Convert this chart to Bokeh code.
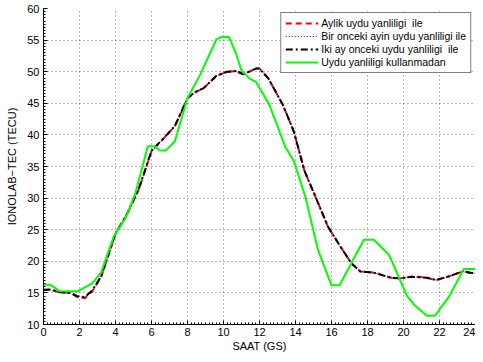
from bokeh.plotting import figure
from bokeh.models import Range1d, FixedTicker, Legend, LegendItem
from bokeh.embed import file_html
from bokeh.resources import INLINE

hours_a = [0, 0.4, 0.9, 1.5, 1.9, 2.3, 2.7, 3.2, 4.0, 4.6, 5.3, 6.0, 6.7, 7.3, 8.0, 8.4, 8.9, 9.6, 10.2, 10.7, 11.1, 11.5, 11.8, 12.0, 12.5, 13.3, 13.9, 14.5, 15.2, 15.8, 16.5, 17.1, 17.6, 18.4, 19.3, 19.8, 20.5, 21.3, 21.8, 22.5, 23.3, 23.8, 24.0]
aylik = [15.4, 15.5, 15.1, 15.0, 14.3, 14.15, 15.2, 17.5, 24.3, 27.2, 31.4, 37.4, 39.5, 41.4, 45.8, 46.7, 47.4, 49.3, 50.0, 50.1, 49.6, 50.1, 50.5, 50.5, 48.9, 44.7, 40.6, 34.3, 29.6, 25.5, 22.3, 19.7, 18.4, 18.2, 17.4, 17.3, 17.6, 17.4, 17.0, 17.6, 18.4, 18.1, 18.1]
bir_onceki = [15.45, 15.5, 15.1, 15.0, 14.4, 14.3, 15.3, 17.6, 24.4, 27.3, 31.45, 37.45, 39.55, 41.4, 45.8, 46.75, 47.4, 49.35, 50.0, 50.1, 49.6, 50.1, 50.5, 50.5, 48.9, 44.75, 40.6, 34.3, 29.6, 25.5, 22.3, 19.7, 18.4, 18.15, 17.4, 17.3, 17.55, 17.4, 17.05, 17.6, 18.4, 18.15, 18.1]
iki_ay = [15.5, 15.55, 15.1, 15.0, 14.45, 14.35, 15.35, 17.6, 24.4, 27.3, 31.5, 37.5, 39.55, 41.4, 45.8, 46.75, 47.4, 49.35, 50.0, 50.1, 49.6, 50.1, 50.5, 50.5, 48.9, 44.75, 40.6, 34.3, 29.6, 25.5, 22.3, 19.7, 18.4, 18.15, 17.4, 17.3, 17.55, 17.4, 17.05, 17.6, 18.4, 18.15, 18.1]

hours_g = [0, 0.37, 0.9, 1.9, 2.7, 3.2, 3.9, 4.55, 5.1, 5.8, 6.2, 6.45, 6.8, 7.3, 8.0, 8.7, 9.6, 9.9, 10.3, 10.7, 11.0, 11.45, 11.8, 12.55, 13.45, 13.9, 14.55, 15.25, 16.0, 16.45, 17.1, 17.8, 18.35, 19.2, 20.2, 20.65, 21.3, 21.75, 22.55, 23.35, 23.8, 24.0]
kullanmadan = [16.3, 16.3, 15.25, 15.25, 16.5, 18.2, 23.9, 26.8, 30.7, 38.2, 38.2, 37.55, 37.55, 39.0, 45.8, 49.5, 55.1, 55.5, 55.5, 52.85, 50.2, 48.9, 48.4, 44.75, 38.0, 35.9, 30.2, 21.8, 16.2, 16.2, 19.7, 23.4, 23.4, 21.0, 14.5, 12.95, 11.4, 11.4, 14.5, 18.8, 18.8, 18.8]

x_ticks = [0, 2, 4, 6, 8, 10, 12, 14, 16, 18, 20, 22, 24]
y_ticks = [10, 15, 20, 25, 30, 35, 40, 45, 50, 55, 60]

labels = ["Aylik uydu yanliligi  ile", "Bir onceki ayin uydu yanliligi ile",
          "Iki ay onceki uydu yanliligi  ile", "Uydu yanliligi kullanmadan"]

FONT = "Liberation Sans"

p = figure(width=475, height=354, output_backend="svg", toolbar_location=None,
           x_range=Range1d(0, 24), y_range=Range1d(10, 60),
           min_border_left=43, min_border_right=0, min_border_top=8, min_border_bottom=29)
p.outline_line_color = None
p.background_fill_color = "white"
p.border_fill_color = "white"

r1 = p.line(hours_a, aylik, line_color="#ff0000", line_width=2, line_dash="6 4")
r2 = p.line(hours_a, bir_onceki, line_color="#0000ff", line_width=1, line_dash="1 2")
r3 = p.line(hours_a, iki_ay, line_color="#000000", line_width=2, line_dash="7 3 2 3")
r4 = p.line(hours_g, kullanmadan, line_color="#00ff00", line_width=2)

for ax in (p.xaxis, p.yaxis):
    ax.major_label_text_font = FONT
    ax.major_label_text_font_size = "11px"
    ax.major_label_text_color = "black"
    ax.axis_line_color = "black"
    ax.axis_line_width = 1
    ax.major_tick_in = 4
    ax.major_tick_out = 0
    ax.major_tick_line_color = "black"
    ax.minor_tick_in = 2
    ax.minor_tick_out = 0
    ax.axis_label_text_font = FONT
    ax.axis_label_text_font_size = "11px"
    ax.axis_label_text_font_style = "normal"
    ax.axis_label_text_color = "black"

p.xaxis.ticker = FixedTicker(ticks=x_ticks, minor_ticks=[i * 0.2 for i in range(121)])
p.yaxis.ticker = FixedTicker(ticks=y_ticks, minor_ticks=[10 + i * 0.5 for i in range(101)])
p.xaxis.major_label_standoff = 3
p.yaxis.major_label_standoff = 4
p.xaxis.axis_label = "SAAT (GS)"
p.yaxis.axis_label = "IONOLAB\u2212TEC (TECU)"
p.xaxis.axis_label_standoff = 1
p.yaxis.axis_label_standoff = 6

p.grid.grid_line_color = "black"
p.grid.grid_line_alpha = 0.55
p.grid.grid_line_dash = "1 3"
p.grid.grid_line_width = 1

legend = Legend(items=[LegendItem(label=labels[0], renderers=[r1]),
                       LegendItem(label=labels[1], renderers=[r2]),
                       LegendItem(label=labels[2], renderers=[r3]),
                       LegendItem(label=labels[3], renderers=[r4])],
                location="top_right")
legend.label_text_font = FONT
legend.label_text_font_size = "10.5px"
legend.label_text_color = "black"
legend.glyph_width = 33
legend.glyph_height = 12
legend.label_height = 12
legend.spacing = 1
legend.padding = 4
legend.margin = 4
legend.label_standoff = 3
legend.border_line_color = "black"
legend.border_line_width = 1.5
legend.background_fill_alpha = 1
p.add_layout(legend)

open("out.html", "w").write(file_html(p, INLINE))
